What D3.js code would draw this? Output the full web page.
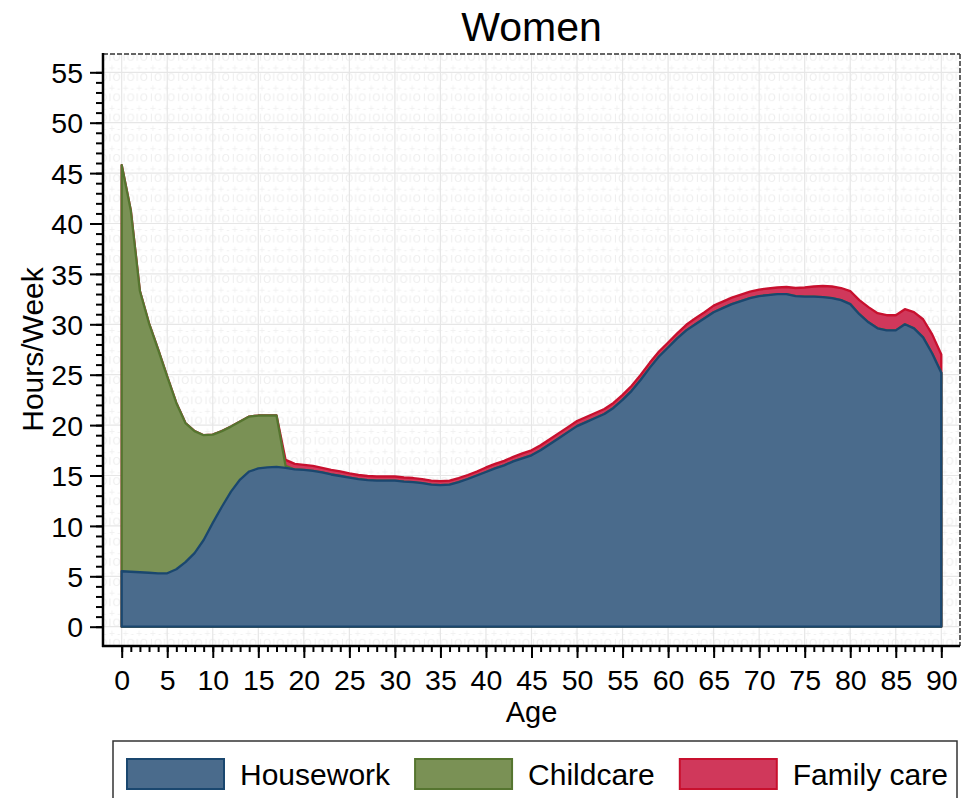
<!DOCTYPE html>
<html>
<head>
<meta charset="utf-8">
<script src="https://cdn.jsdelivr.net/npm/d3@7"></script>
<style>
  body { margin: 0; background: #fff; }
  svg text { font-family: "Liberation Sans", Arial, sans-serif; fill: #000; }
</style>
</head>
<body>
<svg id="chart" width="971" height="798"></svg>
<script>
// ages 0..90
var ages = d3.range(0, 91);

var housework = [5.5, 5.45, 5.4, 5.35, 5.3, 5.3, 5.7, 6.4, 7.3, 8.6,
  10.3, 11.9, 13.4, 14.6, 15.4, 15.7, 15.8, 15.85, 15.75, 15.6,
  15.55, 15.45, 15.3, 15.1, 14.95, 14.8, 14.65, 14.55, 14.5, 14.5,
  14.5, 14.4, 14.35, 14.25, 14.1, 14.05, 14.1, 14.35, 14.65, 15.0,
  15.35, 15.7, 16.0, 16.4, 16.7, 17.0, 17.5, 18.1, 18.7, 19.3,
  19.9, 20.3, 20.7, 21.1, 21.7, 22.5, 23.4, 24.5, 25.7, 26.8,
  27.7, 28.6, 29.4, 30.0, 30.6, 31.2, 31.6, 32.0, 32.3, 32.6,
  32.8, 32.9, 33.0, 33.0, 32.8, 32.75, 32.75, 32.7, 32.6, 32.4,
  32.0, 31.0, 30.2, 29.6, 29.4, 29.4, 30.0, 29.6, 28.7, 27.1,
  25.2];

var childcare = [40.3, 35.85, 27.9, 24.75, 22.2, 19.5, 16.5, 13.8, 12.1, 10.4,
  8.75, 7.5, 6.45, 5.75, 5.45, 5.25, 5.15, 5.1, 0.2, 0,
  0, 0, 0, 0, 0, 0, 0, 0, 0, 0,
  0, 0, 0, 0, 0, 0, 0, 0, 0, 0,
  0, 0, 0, 0, 0, 0, 0, 0, 0, 0,
  0, 0, 0, 0, 0, 0, 0, 0, 0, 0,
  0, 0, 0, 0, 0, 0, 0, 0, 0, 0,
  0, 0, 0, 0, 0, 0, 0, 0, 0, 0,
  0, 0, 0, 0, 0, 0, 0, 0, 0, 0,
  0];

var familycare = [0, 0, 0, 0, 0, 0, 0, 0, 0, 0,
  0, 0, 0, 0, 0, 0, 0, 0, 0.6, 0.55,
  0.5, 0.5, 0.45, 0.45, 0.45, 0.4, 0.4, 0.4, 0.4, 0.4,
  0.4, 0.4, 0.4, 0.4, 0.4, 0.4, 0.4, 0.4, 0.4, 0.4,
  0.45, 0.45, 0.45, 0.45, 0.5, 0.5, 0.5, 0.5, 0.5, 0.5,
  0.5, 0.5, 0.5, 0.5, 0.5, 0.5, 0.5, 0.5, 0.5, 0.5,
  0.5, 0.5, 0.55, 0.6, 0.6, 0.65, 0.65, 0.65, 0.65, 0.65,
  0.65, 0.65, 0.65, 0.7, 0.8, 0.9, 1.0, 1.1, 1.15, 1.2,
  1.3, 1.4, 1.5, 1.5, 1.5, 1.5, 1.5, 1.6, 1.8, 1.9,
  1.8];

var seriesNames = ["Housework", "Childcare", "Family care"];
var fills = ["#4a6b8c", "#7a9155", "#d0385b"];
var strokes = ["#1a476f", "#55752f", "#c8102e"];
var xTicks = d3.range(0, 91, 5);
var yTicks = d3.range(0, 56, 5);

var svg = d3.select("#chart");

// plot frame (don't call it "top", that's window.top)
var pLeft = 103, pRight = 960, pTop = 54, pBottom = 646;
var x = d3.scaleLinear().domain([0, 90]).range([121.7, 941.3]);
var y = d3.scaleLinear().domain([0, 55]).range([626.7, 72.3]);

// faint background pattern, rows of IOIO / +-+-
var defs = svg.append("defs");
var pat = defs.append("pattern").attr("id", "bgpat")
  .attr("patternUnits", "userSpaceOnUse")
  .attr("width", 27.3).attr("height", 20.2)
  .attr("x", x(0)).attr("y", y(55));
pat.append("text").attr("x", 1).attr("y", 9).attr("textLength", 25).attr("lengthAdjust", "spacing")
  .style("font-size", "10px").style("fill", "#ededed").text("IOIO");
pat.append("text").attr("x", 1).attr("y", 19).attr("textLength", 25).attr("lengthAdjust", "spacing")
  .style("font-size", "10px").style("fill", "#f0f0f0").text("+-+-");

svg.append("rect").attr("x", pLeft).attr("y", pTop)
  .attr("width", pRight - pLeft).attr("height", pBottom - pTop)
  .style("fill", "url(#bgpat)");

// grid
svg.append("g").selectAll("line").data(xTicks).enter().append("line")
  .attr("x1", function(d){ return x(d); }).attr("x2", function(d){ return x(d); })
  .attr("y1", pTop).attr("y2", pBottom)
  .style("stroke", "#e6e6e6").style("stroke-width", 1.2);
svg.append("g").selectAll("line").data(yTicks).enter().append("line")
  .attr("x1", pLeft).attr("x2", pRight)
  .attr("y1", function(d){ return y(d); }).attr("y2", function(d){ return y(d); })
  .style("stroke", "#e6e6e6").style("stroke-width", 1.2);

// stack the series, draw each cumulative total down to zero, biggest first
var rows = ages.map(function(a, i){
  return { age: a, Housework: housework[i], Childcare: childcare[i], "Family care": familycare[i] };
});
var stacked = d3.stack().keys(seriesNames)(rows);

var area = d3.area()
  .x(function(d){ return x(d.data.age); })
  .y0(y(0))
  .y1(function(d){ return y(d[1]); });

var order = [2, 1, 0];
order.forEach(function(k){
  svg.append("path")
    .datum(stacked[k])
    .attr("d", function(d){ return area(d) + "Z"; })
    .style("fill", fills[k])
    .style("stroke", strokes[k])
    .style("stroke-width", 2.3)
    .style("stroke-linejoin", "round");
});

// frame: dashed top/right, solid axes
svg.append("line").attr("x1", pLeft).attr("x2", pRight).attr("y1", pTop).attr("y2", pTop)
  .style("stroke", "#333").style("stroke-width", 1.5).style("stroke-dasharray", "5,2");
svg.append("line").attr("x1", pRight).attr("x2", pRight).attr("y1", pTop).attr("y2", pBottom)
  .style("stroke", "#333").style("stroke-width", 1.5).style("stroke-dasharray", "5,2");

// y axis
var yAxis = svg.append("g").attr("transform", "translate(" + pLeft + ",0)");
yAxis.append("g").call(d3.axisLeft(y).tickValues(d3.range(0, 56, 1)).tickSize(7).tickFormat(""))
  .call(function(g){ g.select(".domain").remove(); });
yAxis.append("g").call(d3.axisLeft(y).tickValues(yTicks).tickSize(13).tickPadding(7))
  .call(function(g){ g.select(".domain").remove(); });
yAxis.selectAll("line").style("stroke", "#000").style("stroke-width", 2);
yAxis.selectAll("text").style("font-size", "28.5px").style("fill", "#000")
  .attr("font-family", null).attr("dy", "0.36em");
svg.append("line").attr("x1", pLeft).attr("x2", pLeft).attr("y1", pTop - 1).attr("y2", pBottom + 1)
  .style("stroke", "#000").style("stroke-width", 2.5);

// x axis
var xAxis = svg.append("g").attr("transform", "translate(0," + pBottom + ")");
xAxis.append("g").call(d3.axisBottom(x).tickValues(d3.range(0, 91, 1)).tickSize(6).tickFormat(""))
  .call(function(g){ g.select(".domain").remove(); });
xAxis.append("g").call(d3.axisBottom(x).tickValues(xTicks).tickSize(12).tickPadding(12))
  .call(function(g){ g.select(".domain").remove(); });
xAxis.selectAll("line").style("stroke", "#000").style("stroke-width", 2);
xAxis.selectAll("text").style("font-size", "28.5px").style("fill", "#000")
  .attr("font-family", null).attr("dy", "0.71em");
svg.append("line").attr("x1", pLeft - 1).attr("x2", pRight).attr("y1", pBottom).attr("y2", pBottom)
  .style("stroke", "#000").style("stroke-width", 2.5);

// titles
svg.append("text").attr("x", (pLeft + pRight) / 2).attr("y", 41)
  .attr("text-anchor", "middle").style("font-size", "41px").text("Women");
svg.append("text").attr("x", (pLeft + pRight) / 2).attr("y", 722)
  .attr("text-anchor", "middle").style("font-size", "29px").text("Age");
svg.append("text").attr("transform", "translate(43," + ((y(0) + y(55)) / 2) + ") rotate(-90)")
  .attr("text-anchor", "middle").style("font-size", "30px").text("Hours/Week");

// legend
var legX = 113, legY = 741, legW = 844;
defs.append("clipPath").attr("id", "legclip").append("rect")
  .attr("x", legX).attr("y", legY).attr("width", legW).attr("height", 80);
svg.append("rect").attr("x", legX).attr("y", legY).attr("width", legW).attr("height", 80)
  .style("fill", "#fff").style("stroke", "#333").style("stroke-width", 1.5);
var leg = svg.append("g").attr("clip-path", "url(#legclip)");
var cx = 127;
seriesNames.forEach(function(name, i){
  leg.append("rect").attr("x", cx).attr("y", 759).attr("width", 97).attr("height", 30)
    .style("fill", fills[i]).style("stroke", strokes[i]).style("stroke-width", 2);
  var t = leg.append("text").attr("x", cx + 113).attr("y", 785)
    .style("font-size", "30px").text(name);
  cx = cx + 113 + t.node().getComputedTextLength() + 25;
});
</script>
</body>
</html>
